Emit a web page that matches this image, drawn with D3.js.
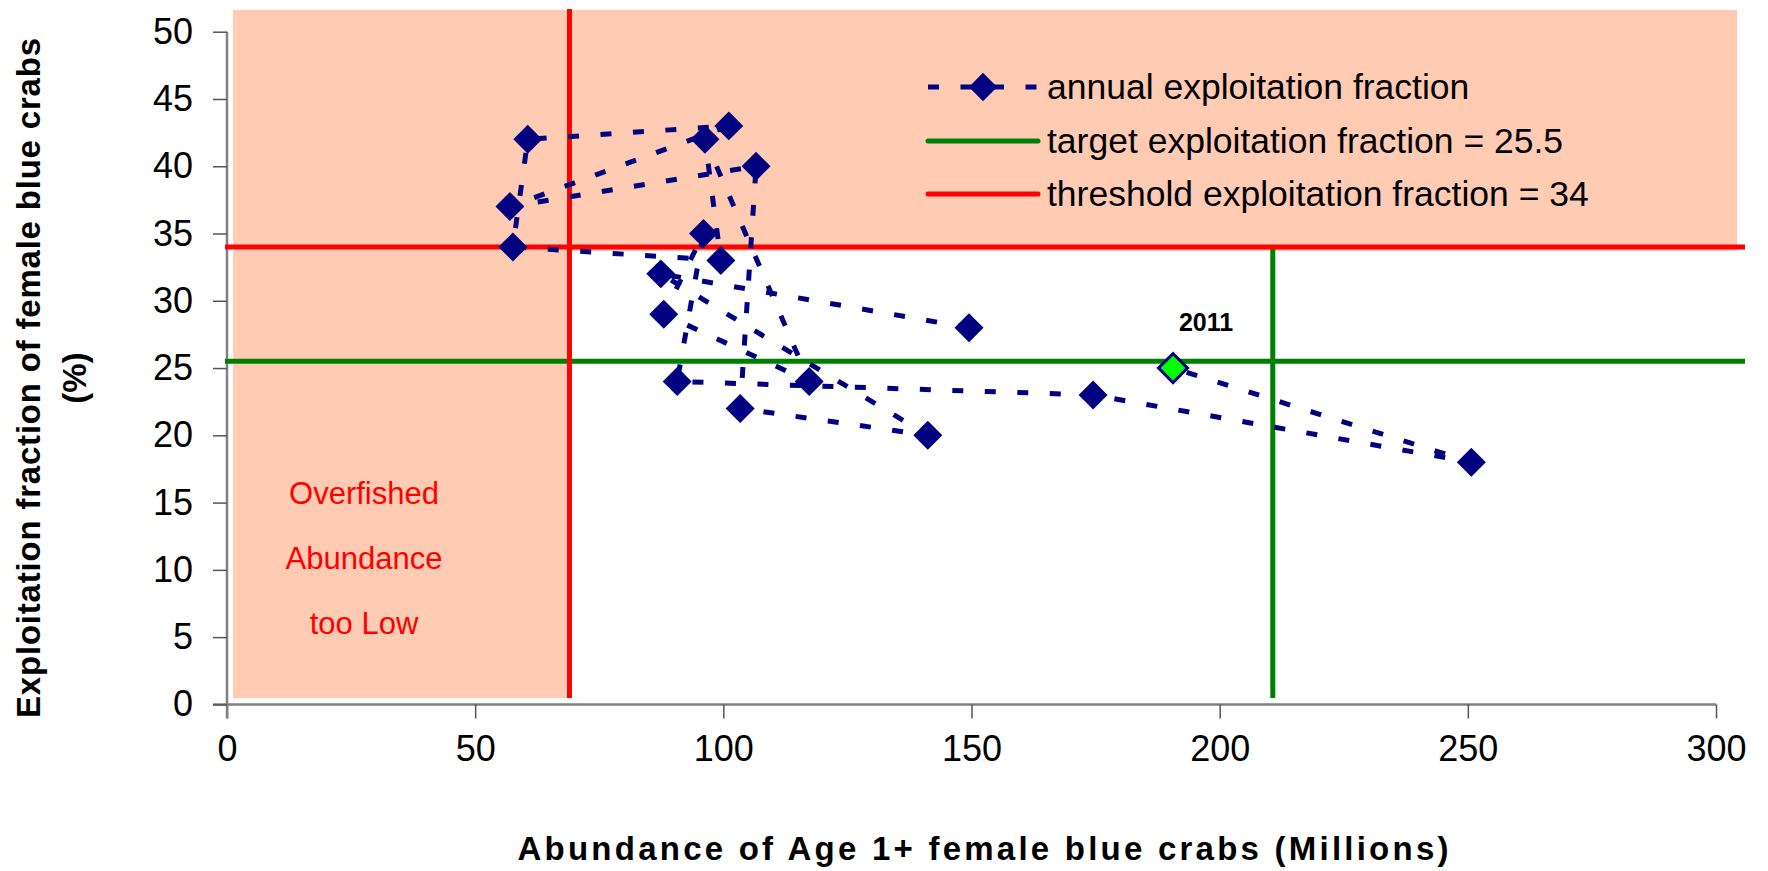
<!DOCTYPE html>
<html><head><meta charset="utf-8">
<script src="https://cdn.jsdelivr.net/npm/d3@7"></script>
<style>
body{margin:0;background:#fff}
svg{display:block}
text{font-family:Arial,"Liberation Sans",Helvetica,sans-serif}
</style>
</head><body>
<svg id="chart" width="1768" height="871"></svg>
<script>
// ---- data (plotted in path order) ----
const abundance = [149.5, 87.4, 141.2, 103.4, 106.6, 57.0, 101.1, 60.6, 57.6, 99.5, 96.3, 117.3, 88.0, 96.0, 90.7, 174.5, 250.7, 190.6];
const exploitation = [28, 32, 20, 22, 40, 37, 43, 42, 34, 33, 42, 24, 29, 35, 24, 23, 18, 25];
const highlightLabel = "2011";
const xTicks = [0, 50, 100, 150, 200, 250, 300];
const yTicks = [0, 5, 10, 15, 20, 25, 30, 35, 40, 45, 50];
const targetExploitation = 25.5;
const thresholdExploitation = 34;
const thresholdAbundance = 69;
const targetAbundance = 210.7;
const legendLabels = ["annual exploitation fraction", "target exploitation fraction = 25.5", "threshold exploitation fraction = 34"];
const zoneLabel = ["Overfished", "Abundance", "too Low"];
const xTitle = "Abundance of Age 1+ female blue crabs (Millions)";
const yTitle = ["Exploitation fraction of female blue crabs", "(%)"];

const NAVY = "#000080", RED = "#FF0000", GREEN = "#008000", PINK = "#FFCBB3";

const svg = d3.select("#chart");
const x = d3.scaleLinear().domain([0, 300]).range([227, 1716]);
const y = d3.scaleLinear().domain([0, 50]).range([704.4, 31.7]);

// ---- shaded zones ----
const pinkLeft = x(0) + 6, pinkRight = 1737, pinkTop = 10, pinkBottom = 698;
svg.append("rect").attr("x", pinkLeft).attr("y", pinkTop)
  .attr("width", pinkRight - pinkLeft).attr("height", y(thresholdExploitation - 0.3) - pinkTop).attr("fill", PINK);
svg.append("rect").attr("x", pinkLeft).attr("y", pinkTop)
  .attr("width", x(thresholdAbundance) - pinkLeft).attr("height", pinkBottom - pinkTop).attr("fill", PINK);

// ---- axes ----
const xAxis = d3.axisBottom(x).tickValues(xTicks).tickSize(14).tickPadding(17);
const gx = svg.append("g").attr("transform", `translate(0,${y(0)})`).call(xAxis);
gx.select(".domain").attr("stroke", "#808080").attr("stroke-width", 2.5).attr("d", `M${x(0) - 14},0H${x(300)}`);
gx.selectAll(".tick line").attr("stroke", "#555").attr("stroke-width", 1.5);
gx.selectAll(".tick text").attr("font-size", 36).attr("fill", "#000").attr("font-family", "Arial, 'Liberation Sans', sans-serif");

const yAxis = d3.axisLeft(y).tickValues(yTicks).tickSize(14).tickPadding(20);
const gy = svg.append("g").attr("transform", `translate(${x(0)},0)`).call(yAxis);
gy.select(".domain").attr("stroke", "#808080").attr("stroke-width", 2.5).attr("d", `M0,${y(50)}V${y(0) + 14}`);
gy.selectAll(".tick line").attr("stroke", "#555").attr("stroke-width", 1.5);
gy.selectAll(".tick text").attr("font-size", 36).attr("fill", "#000").attr("font-family", "Arial, 'Liberation Sans', sans-serif");

// ---- reference lines ----
const refRight = 1745;
svg.append("line").attr("x1", x(0) - 2).attr("x2", refRight).attr("y1", y(targetExploitation)).attr("y2", y(targetExploitation))
  .attr("stroke", GREEN).attr("stroke-width", 5);
svg.append("line").attr("x1", x(targetAbundance)).attr("x2", x(targetAbundance)).attr("y1", y(thresholdExploitation)).attr("y2", pinkBottom)
  .attr("stroke", GREEN).attr("stroke-width", 5);
svg.append("line").attr("x1", x(0) - 2).attr("x2", refRight).attr("y1", y(thresholdExploitation)).attr("y2", y(thresholdExploitation))
  .attr("stroke", RED).attr("stroke-width", 5);
svg.append("line").attr("x1", x(thresholdAbundance)).attr("x2", x(thresholdAbundance)).attr("y1", 9).attr("y2", pinkBottom)
  .attr("stroke", RED).attr("stroke-width", 5);

// ---- zone label ----
svg.append("text").attr("x", 364).attr("y", 493).attr("text-anchor", "middle").attr("fill", RED).attr("font-size", 31)
  .selectAll("tspan").data(zoneLabel).join("tspan")
  .attr("x", 364).attr("dy", (d, i) => i === 0 ? 0 : 65).attr("dominant-baseline", "central").text(d => d);

// ---- series ----
const pts = abundance.map((a, i) => ({ a, e: exploitation[i] }));
const line = d3.line().x(d => x(d.a)).y(d => y(d.e));
svg.append("path").datum(pts).attr("d", line).attr("fill", "none").attr("stroke", NAVY)
  .attr("stroke-width", 5).attr("stroke-dasharray", "11,21.5");

svg.selectAll(".pt").data(pts).join("path").attr("class", "pt")
  .attr("transform", d => `translate(${x(d.a)},${y(d.e)}) rotate(45)`)
  .attr("d", d3.symbol().type(d3.symbolSquare).size(420)())
  .attr("fill", (d, i) => i === pts.length - 1 ? "#00FF00" : NAVY)
  .attr("stroke", NAVY).attr("stroke-width", (d, i) => i === pts.length - 1 ? 3 : 0);

const last = pts[pts.length - 1];
svg.append("text").attr("x", x(last.a) + 33).attr("y", y(last.e) - 46).attr("text-anchor", "middle")
  .attr("dominant-baseline", "central").attr("font-size", 25).attr("font-weight", "bold").text(highlightLabel);

// ---- legend ----
const lgX1 = 928, lgX2 = 1038, lgText = 1047, lgRows = [87, 141, 194];
const lg = svg.append("g");
lg.append("line").attr("x1", lgX1).attr("x2", lgX2).attr("y1", lgRows[0]).attr("y2", lgRows[0])
  .attr("stroke", NAVY).attr("stroke-width", 5).attr("stroke-dasharray", "11,21.5");
lg.append("path").attr("transform", `translate(${(lgX1 + lgX2) / 2},${lgRows[0]}) rotate(45)`)
  .attr("d", d3.symbol().type(d3.symbolSquare).size(400)()).attr("fill", NAVY);
lg.append("line").attr("x1", lgX1).attr("x2", lgX2).attr("y1", lgRows[1]).attr("y2", lgRows[1])
  .attr("stroke", GREEN).attr("stroke-width", 5).attr("stroke-linecap", "round");
lg.append("line").attr("x1", lgX1).attr("x2", lgX2).attr("y1", lgRows[2]).attr("y2", lgRows[2])
  .attr("stroke", RED).attr("stroke-width", 5).attr("stroke-linecap", "round");
lg.selectAll("text").data(legendLabels).join("text")
  .attr("x", lgText).attr("y", (d, i) => lgRows[i]).attr("dominant-baseline", "central")
  .attr("font-size", 35.5).attr("fill", "#000").text(d => d);

// ---- titles ----
svg.append("text").attr("x", 983).attr("y", 848).attr("text-anchor", "middle")
  .attr("dominant-baseline", "central").attr("font-size", 33).attr("font-weight", "bold")
  .attr("textLength", 931).attr("lengthAdjust", "spacing").text(xTitle);
const yt = svg.append("text").attr("transform", "translate(0,378) rotate(-90)").attr("text-anchor", "middle")
  .attr("font-size", 33).attr("font-weight", "bold");
yt.append("tspan").attr("x", 0).attr("y", 28).attr("dominant-baseline", "central")
  .attr("textLength", 680).attr("lengthAdjust", "spacing").text(yTitle[0]);
yt.append("tspan").attr("x", 0).attr("y", 74).attr("dominant-baseline", "central").text(yTitle[1]);
</script>
</body></html>
